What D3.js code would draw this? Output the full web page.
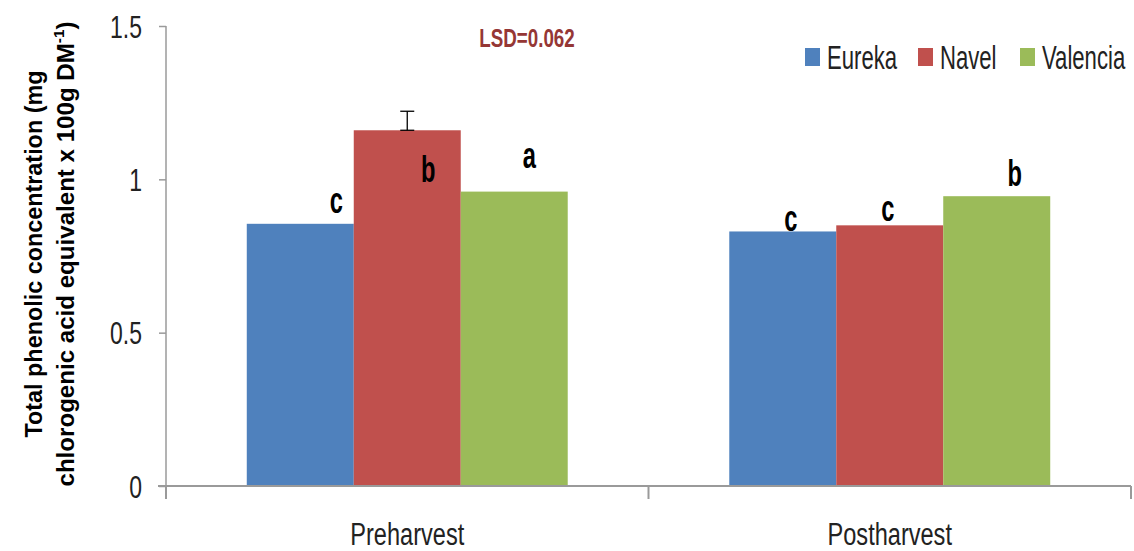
<!DOCTYPE html>
<html>
<head>
<meta charset="utf-8">
<script src="https://cdn.jsdelivr.net/npm/d3@7"></script>
<style>
  html, body { margin: 0; padding: 0; background: #fff; }
  svg { display: block; }
  text { font-family: "Liberation Sans", Arial, sans-serif; }
</style>
</head>
<body>
<svg id="chart" width="1134" height="551"></svg>
<script>
// Total phenolic concentration by cultivar, pre- and postharvest
const stages = ["Preharvest", "Postharvest"];
const cultivars = ["Eureka", "Navel", "Valencia"];
const eureka = [0.855, 0.83];
const navel = [1.16, 0.85];
const valencia = [0.96, 0.945];
const letters = [["c", "b", "a"], ["c", "c", "b"]];
const yTicks = [0, 0.5, 1, 1.5];
const lsd = 0.062;

// hand placement of the significance letters relative to each bar top (px)
const letterOffset = [
  [[36, -11], [21, 52], [15, -24]],
  [[8, 0], [-2, -4], [18, -10]]
];

const colors = { Eureka: "#4f81bd", Navel: "#c0504d", Valencia: "#9bbb59" };
const seriesValues = { Eureka: eureka, Navel: navel, Valencia: valencia };

const svg = d3.select("#chart");
const axisColor = "#9a9a9a";

// squeeze a text horizontally to give the narrow look of the labels
function narrow(sel, f) {
  sel.each(function () {
    const w = this.getComputedTextLength();
    d3.select(this).attr("textLength", w * f).attr("lengthAdjust", "spacingAndGlyphs");
  });
}

const x0 = d3.scaleBand().domain(stages).range([166, 1131]).paddingInner(0).paddingOuter(0);
const x1 = d3.scaleBand().domain(cultivars).range([0, x0.bandwidth()]).paddingInner(0).paddingOuter(0.755);
const y = d3.scaleLinear().domain([0, 1.5]).range([486, 26]);

// bars
const rows = [];
stages.forEach((s, i) => cultivars.forEach((c, j) => rows.push({ stage: s, cultivar: c, value: seriesValues[c][i], letter: letters[i][j], off: letterOffset[i][j] })));

svg.append("g").selectAll("rect").data(rows).join("rect")
  .attr("x", d => x0(d.stage) + x1(d.cultivar))
  .attr("y", d => y(d.value))
  .attr("width", x1.bandwidth())
  .attr("height", d => y(0) - y(d.value))
  .attr("fill", d => colors[d.cultivar]);

// y axis
const yAxis = svg.append("g").attr("transform", `translate(166,0)`)
  .call(d3.axisLeft(y).tickValues(yTicks).tickSize(7).tickFormat(d3.format("")));
yAxis.select(".domain").attr("stroke", axisColor).attr("stroke-width", 1.5).attr("d", `M0,${y(1.5)}V${y(0)}`);
yAxis.selectAll(".tick line").attr("stroke", axisColor).attr("stroke-width", 1.5);
yAxis.selectAll(".tick text").attr("fill", "#222").attr("font-size", 31).attr("x", -24).attr("dy", "0.36em")
  .call(narrow, 0.74);

// x axis with boundary ticks between categories
const xa = svg.append("g");
xa.append("line").attr("x1", 158).attr("x2", 1131).attr("y1", y(0)).attr("y2", y(0))
  .attr("stroke", axisColor).attr("stroke-width", 2);
const bounds = [x0(stages[0]), x0(stages[1]), x0(stages[1]) + x0.bandwidth()];
xa.selectAll("line.b").data(bounds).join("line").attr("class", "b")
  .attr("x1", d => d).attr("x2", d => d).attr("y1", y(0)).attr("y2", y(0) + 13)
  .attr("stroke", axisColor).attr("stroke-width", 2);
xa.selectAll("text").data(stages).join("text")
  .attr("x", d => x0(d) + x0.bandwidth() / 2).attr("y", 545)
  .attr("text-anchor", "middle").attr("font-size", 31).attr("fill", "#222")
  .text(d => d)
  .call(narrow, 0.76);

// error bar on the Navel preharvest bar (LSD)
const nav = rows.find(d => d.stage === "Preharvest" && d.cultivar === "Navel");
const ex = x0(nav.stage) + x0.bandwidth() / 2;
const eb = svg.append("g").attr("stroke", "#000").attr("stroke-width", 1.3);
eb.append("line").attr("x1", ex).attr("x2", ex).attr("y1", y(nav.value)).attr("y2", y(nav.value + lsd));
eb.append("line").attr("x1", ex - 7).attr("x2", ex + 7).attr("y1", y(nav.value + lsd)).attr("y2", y(nav.value + lsd));
eb.append("line").attr("x1", ex - 7).attr("x2", ex + 7).attr("y1", y(nav.value)).attr("y2", y(nav.value));

// significance letters
svg.append("g").selectAll("text").data(rows).join("text")
  .attr("x", d => x0(d.stage) + x1(d.cultivar) + x1.bandwidth() / 2 + d.off[0])
  .attr("y", d => y(d.value) + d.off[1])
  .attr("text-anchor", "middle").attr("font-weight", "bold").attr("font-size", 37).attr("fill", "#000")
  .text(d => d.letter)
  .call(narrow, 0.64);

// LSD annotation
svg.append("text").attr("x", 527).attr("y", 47).attr("text-anchor", "middle")
  .attr("font-weight", "bold").attr("font-size", 25).attr("fill", "#953735")
  .text("LSD=" + lsd.toFixed(3))
  .call(narrow, 0.75);

// legend
const legendX = [805, 918, 1020];
const lg = svg.append("g").selectAll("g").data(cultivars).join("g")
  .attr("transform", (d, i) => `translate(${legendX[i]},48)`);
lg.append("rect").attr("width", 15).attr("height", 18).attr("fill", d => colors[d]);
lg.append("text").attr("x", 22).attr("y", 21).attr("font-size", 33).attr("fill", "#222").text(d => d)
  .call(narrow, 0.67);

// y axis title
const title = svg.append("g").attr("transform", "translate(0,254) rotate(-90)")
  .attr("font-weight", "bold").attr("font-size", 23.5).attr("fill", "#000").attr("text-anchor", "middle");
title.append("text").attr("x", 0).attr("y", 42).text("Total phenolic concentration (mg")
  .attr("textLength", 367).attr("lengthAdjust", "spacingAndGlyphs");
const t2 = title.append("text").attr("x", 0).attr("y", 74)
  .attr("textLength", 465).attr("lengthAdjust", "spacingAndGlyphs");
t2.append("tspan").text("chlorogenic acid equivalent x 100g DM");
t2.append("tspan").attr("font-size", 15).attr("dy", -10).text("-1");
t2.append("tspan").attr("dy", 10).text(")");
</script>
</body>
</html>
